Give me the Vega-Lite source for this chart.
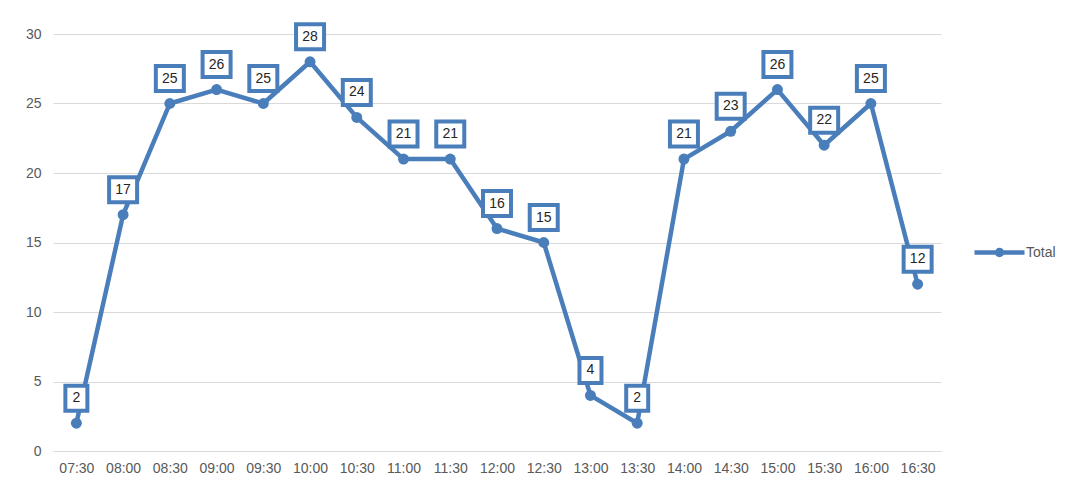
{
  "$schema": "https://vega.github.io/schema/vega-lite/v6.json",
  "width": 888,
  "height": 417,
  "autosize": {"type": "none"},
  "padding": {"left": 53, "top": 34, "right": 129, "bottom": 38},
  "background": "white",
  "config": {
    "view": {"stroke": null},
    "font": "Liberation Sans",
    "axis": {"labelColor": "#595959", "labelFontSize": 14, "ticks": false, "titleColor": "#595959"}
  },
  "data": {
    "values": [
      {"time": "07:30", "value": 2, "series": "Total"},
      {"time": "08:00", "value": 17, "series": "Total"},
      {"time": "08:30", "value": 25, "series": "Total"},
      {"time": "09:00", "value": 26, "series": "Total"},
      {"time": "09:30", "value": 25, "series": "Total"},
      {"time": "10:00", "value": 28, "series": "Total"},
      {"time": "10:30", "value": 24, "series": "Total"},
      {"time": "11:00", "value": 21, "series": "Total"},
      {"time": "11:30", "value": 21, "series": "Total"},
      {"time": "12:00", "value": 16, "series": "Total"},
      {"time": "12:30", "value": 15, "series": "Total"},
      {"time": "13:00", "value": 4, "series": "Total"},
      {"time": "13:30", "value": 2, "series": "Total"},
      {"time": "14:00", "value": 21, "series": "Total"},
      {"time": "14:30", "value": 23, "series": "Total"},
      {"time": "15:00", "value": 26, "series": "Total"},
      {"time": "15:30", "value": 22, "series": "Total"},
      {"time": "16:00", "value": 25, "series": "Total"},
      {"time": "16:30", "value": 12, "series": "Total"}
    ]
  },
  "encoding": {
    "x": {
      "field": "time", "type": "ordinal", "sort": null,
      "scale": {"type": "point", "padding": 0.5},
      "axis": {"title": null, "labelAngle": 0, "grid": false, "domain": true, "domainColor": "#d9d9d9", "labelPadding": 10}
    },
    "y": {
      "field": "value", "type": "quantitative",
      "scale": {"domain": [0, 30], "nice": false},
      "axis": {"title": null, "values": [0, 5, 10, 15, 20, 25, 30], "grid": true, "gridColor": "#d9d9d9", "domain": false, "labelPadding": 12}
    }
  },
  "layer": [
    {
      "mark": {"type": "line", "strokeWidth": 4.5, "strokeJoin": "round"},
      "encoding": {
        "color": {
          "field": "series", "type": "nominal",
          "scale": {"range": ["#4a7ebb"]},
          "legend": {
            "title": null, "orient": "none", "legendX": 934, "legendY": 206,
            "symbolType": "M-2.5,0H2.5M0,-0.25A0.25,0.25,0,1,1,0,0.25A0.25,0.25,0,1,1,0,-0.25Z",
            "symbolSize": 400, "symbolStrokeWidth": 4.5,
            "symbolFillColor": "#4a7ebb", "symbolStrokeColor": "#4a7ebb",
            "labelFontSize": 14, "labelColor": "#595959", "labelOffset": 14
          }
        }
      }
    },
    {
      "mark": {"type": "point", "filled": true, "size": 120, "opacity": 1, "color": "#4a7ebb"}
    },
    {
      "transform": [{"filter": "datum.value >= 10"}],
      "mark": {"type": "point", "shape": "M-1.12,-1H1.12V1H-1.12Z", "size": 625, "filled": false, "fill": "white", "fillOpacity": 1, "stroke": "#4a7ebb", "strokeWidth": 4, "opacity": 1, "yOffset": -25}
    },
    {
      "transform": [{"filter": "datum.value < 10"}],
      "mark": {"type": "point", "shape": "M-0.88,-1H0.88V1H-0.88Z", "size": 625, "filled": false, "fill": "white", "fillOpacity": 1, "stroke": "#4a7ebb", "strokeWidth": 4, "opacity": 1, "yOffset": -25}
    },
    {
      "mark": {"type": "text", "dy": -25, "fontSize": 14, "color": "#262626", "baseline": "middle", "align": "center"},
      "encoding": {"text": {"field": "value", "type": "quantitative"}}
    }
  ]
}
